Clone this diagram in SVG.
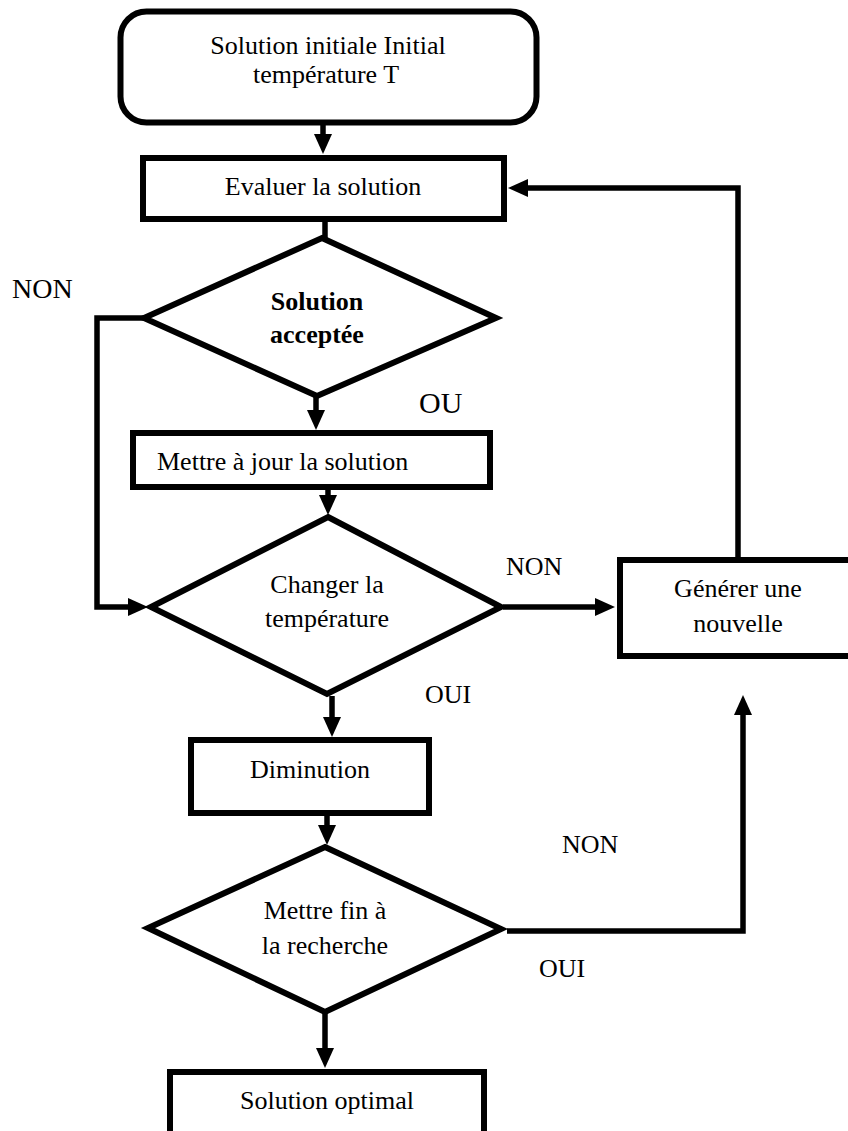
<svg xmlns="http://www.w3.org/2000/svg" width="848" height="1131" viewBox="0 0 848 1131">
<style>
.node{fill:#fff;stroke:#000;stroke-width:6}
.t{font-family:"Liberation Serif","Times New Roman",serif;font-size:26px;fill:#000;text-anchor:middle}
.b{font-weight:bold}
.lbl{font-family:"Liberation Serif","Times New Roman",serif;font-size:26px;fill:#000}
.c{fill:none;stroke:#000;stroke-width:5.5;marker-end:url(#ah)}
</style>
<defs>
<marker id="ah" viewBox="0 0 20 18" refX="4" refY="9" markerWidth="20" markerHeight="18" markerUnits="userSpaceOnUse" orient="auto">
<path d="M0,0 L20,9 L0,18 z" fill="#000"/>
</marker>
</defs>
<rect width="848" height="1131" fill="#fff"/>
<g id="connectors">
<path class="c" d="M323,125 V138"/>
<path class="c" d="M325,221 V246"/>
<path class="c" d="M144,318 H97 V607 H132"/>
<path class="c" d="M316,395 V414"/>
<path class="c" d="M328,477 V499"/>
<path class="c" d="M503,607 H599"/>
<path class="c" d="M738,558 V188 H524"/>
<path class="c" d="M332,696 V721"/>
<path class="c" d="M327,807 V829"/>
<path class="c" d="M507,931 H743 V711"/>
<path class="c" d="M325,1012 V1052"/>
</g>
<g id="start">
<rect class="node" x="120.5" y="11.5" width="416" height="111" rx="26" stroke-width="7"/>
<text class="t" x="328" y="54">Solution initiale Initial</text>
<text class="t" x="326" y="83">température T</text>
</g>
<g id="evaluer">
<rect class="node" x="143" y="158" width="361" height="61"/>
<text class="t" x="323" y="195">Evaluer la solution</text>
</g>
<g id="accept">
<polygon class="node" points="322,238 496,318 317,396 144,318"/>
<text class="t b" x="317" y="310">Solution</text>
<text class="t b" x="317" y="343">acceptée</text>
</g>
<g id="update">
<rect class="node" x="133" y="433" width="357" height="54"/>
<text class="lbl" x="157" y="470">Mettre à jour la solution</text>
</g>
<g id="changer">
<polygon class="node" points="328,517 501,607 327,694 151,607"/>
<text class="t" x="327" y="593">Changer la</text>
<text class="t" x="327" y="627">température</text>
</g>
<g id="generer">
<rect class="node" x="620" y="560" width="240" height="96"/>
<text class="t" x="738" y="597">Générer une</text>
<text class="t" x="738" y="632">nouvelle</text>
</g>
<g id="diminution">
<rect class="node" x="191" y="740" width="238" height="73"/>
<text class="t" x="310" y="778">Diminution</text>
</g>
<g id="fin">
<polygon class="node" points="325,847 501,929 325,1012 148,928"/>
<text class="t" x="325" y="919">Mettre fin à</text>
<text class="t" x="325" y="954">la recherche</text>
</g>
<g id="optimal">
<rect class="node" x="170" y="1072" width="314" height="70"/>
<text class="t" x="327" y="1109">Solution optimal</text>
</g>
<g id="labels">
<text class="lbl" x="12" y="298" style="font-size:28px">NON</text>
<text class="lbl" x="419" y="413" style="font-size:30px">OU</text>
<text class="lbl" x="506" y="575">NON</text>
<text class="lbl" x="425" y="703">OUI</text>
<text class="lbl" x="562" y="853">NON</text>
<text class="lbl" x="539" y="977">OUI</text>
</g>
</svg>
